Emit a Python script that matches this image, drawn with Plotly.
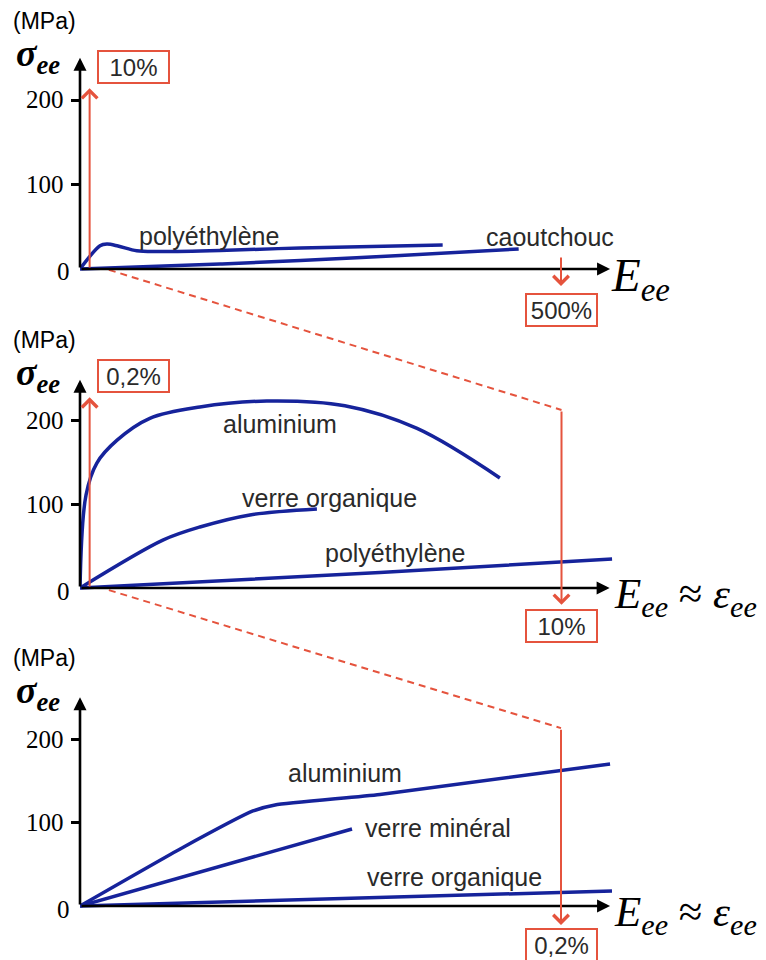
import plotly.graph_objects as go

# ---------------- data: strain (%) vs engineering stress (MPa) ----------------
# panel 1 : large strains (0 .. 500 %)
p1_poly_strain = [0, 20.8, 28, 39.5, 59, 83, 145.5, 229, 377]
p1_poly_stress = [0, 27.5, 29.5, 27.2, 21.5, 20.7, 21.9, 24.9, 28.4]
p1_rubber_strain = [0, 145.5, 229, 333, 456]
p1_rubber_stress = [0, 5.9, 10, 16, 23.7]

# panel 2 : 0 .. 10 %
p2_alu_strain = [0, 0.125, 0.35, 0.77, 1.45, 2.49, 3.88, 5.5, 7.0, 8.72]
p2_alu_stress = [0, 110.7, 148.8, 176, 202, 215.5, 222.6, 217, 190, 131]
p2_pmma_strain = [0, 1.72, 2.49, 3.53, 4.92]
p2_pmma_stress = [0, 57, 72.6, 87, 94]
p2_poly_strain = [0, 6.23, 11.05]
p2_poly_stress = [0, 18.5, 34.5]

# panel 3 : 0 .. 0.2 %
p3_alu_strain = [0, 0.0424, 0.0719, 0.0811, 0.1247, 0.2204]
p3_alu_stress = [0, 69.5, 113.8, 121, 133.5, 170]
p3_glass_strain = [0, 0.1131]
p3_glass_stress = [0, 92.2]
p3_pmma_strain = [0, 0.2212]
p3_pmma_stress = [0, 18]

stress_ticks = [0, 100, 200]
stress_tick_text = ["0", "100", "200"]

# strain marks (zoom windows) : value and box text
p1_marks = [(10, "10%"), (500, "500%")]
p2_marks = [(0.2, "0,2%"), (10, "10%")]
p3_marks = [(0.2, "0,2%")]

# ---------------- geometry / style ----------------
W, H = 766, 960
X0 = 80  # pixel column of the stress axis
BLUE = "#16239b"
RED = "#e5533d"
GREY = "#2a2a2a"
SANS = "Liberation Sans"
SERIF = "Liberation Serif"

panels = [
    dict(origin=269, sy=0.845, sx=0.962, top=40, bottom=330, xend=551, yend=250),
    dict(origin=588, sy=0.840, sx=48.15, top=340, bottom=650, xend=11.0, yend=248),
    dict(origin=906, sy=0.835, sx=2405.0, top=660, bottom=960, xend=0.2204, yend=250),
]


def to_paper(p, x, y):
    px = X0 + x * p["sx"]
    py = p["origin"] - y * p["sy"]
    return px / W, 1 - py / H


fig = go.Figure()
layout = dict(
    width=W, height=H, margin=dict(l=0, r=0, t=0, b=0),
    paper_bgcolor="white", plot_bgcolor="rgba(0,0,0,0)", showlegend=False,
)

for i, p in enumerate(panels, start=1):
    sfx = "" if i == 1 else str(i)
    layout["xaxis" + sfx] = dict(
        domain=[X0 / W, 1], range=[0, (W - X0) / p["sx"]],
        anchor="y" + sfx, showgrid=False, zeroline=False, showline=False,
        showticklabels=False, ticks="", fixedrange=True,
    )
    # tick marks only at the non-zero stress values; labels are written below
    layout["yaxis" + sfx] = dict(
        domain=[1 - p["bottom"] / H, 1 - p["top"] / H],
        range=[(p["origin"] - p["bottom"]) / p["sy"], (p["origin"] - p["top"]) / p["sy"]],
        anchor="x" + sfx, showgrid=False, zeroline=False, showline=False,
        tickvals=[v for v in stress_ticks if v > 0], ticks="outside",
        ticklen=8, tickwidth=2.5, tickcolor="black", showticklabels=False,
        fixedrange=True,
    )
fig.update_layout(**layout)


def curve(i, xs, ys, shape="linear", smoothing=0.9):
    sfx = "" if i == 1 else str(i)
    fig.add_trace(go.Scatter(
        x=xs, y=ys, mode="lines", xaxis="x" + sfx, yaxis="y" + sfx,
        line=dict(color=BLUE, width=3.5, shape=shape, smoothing=smoothing),
        hoverinfo="skip", cliponaxis=False,
    ))


curve(1, p1_rubber_strain, p1_rubber_stress, "spline")
curve(1, p1_poly_strain, p1_poly_stress, "spline")
curve(2, p2_poly_strain, p2_poly_stress)
curve(2, p2_pmma_strain, p2_pmma_stress, "spline")
curve(2, p2_alu_strain, p2_alu_stress, "spline", 1.0)
curve(3, p3_pmma_strain, p3_pmma_stress)
curve(3, p3_glass_strain, p3_glass_stress)
curve(3, p3_alu_strain, p3_alu_stress, "spline", 0.5)

ann = []


def refs(i):
    sfx = "" if i == 1 else str(i)
    return "x" + sfx, "y" + sfx


for i, p in enumerate(panels, start=1):
    xr, yr = refs(i)
    # axes drawn as arrows
    for hx, hy in [(p["xend"], 0), (0, p["yend"])]:
        ann.append(dict(x=hx, y=hy, ax=0, ay=0, xref=xr, yref=yr, axref=xr, ayref=yr,
                        text="", showarrow=True, arrowhead=2, arrowsize=1,
                        arrowwidth=2.6, arrowcolor="black", standoff=0))
    # stress tick labels
    for v, t in zip(stress_ticks, stress_tick_text):
        ann.append(dict(x=0, y=v, xref=xr, yref=yr, text=t, showarrow=False,
                        xanchor="right", yanchor="middle",
                        xshift=-8 if v == 0 else -14, yshift=-3 if v == 0 else 0,
                        font=dict(family=SERIF, size=25, color="black")))
    # axis titles
    ox, oy = to_paper(p, 0, 0)
    ann.append(dict(x=11 / W, y=oy + 248 / H, xref="paper", yref="paper",
                    text="(MPa)", showarrow=False, xanchor="left", yanchor="middle",
                    font=dict(family=SANS, size=23, color="black")))
    ann.append(dict(x=14 / W, y=oy + 213 / H, xref="paper", yref="paper",
                    text="<b><i>σ<sub>ee</sub></i></b>", showarrow=False,
                    xanchor="left", yanchor="middle",
                    font=dict(family=SERIF, size=38, color="black")))

# strain axis titles
_, oy1 = to_paper(panels[0], 0, 0)
ann.append(dict(x=609 / W, y=oy1 - 9 / H, xref="paper", yref="paper",
                text="<i>E<sub>ee</sub></i>", showarrow=False,
                xanchor="left", yanchor="middle",
                font=dict(family=SERIF, size=47, color="black")))
for p in panels[1:]:
    _, oy = to_paper(p, 0, 0)
    ann.append(dict(x=612 / W, y=oy - 9 / H, xref="paper", yref="paper",
                    text="<i>E<sub>ee</sub></i> ≈ <i>ε<sub>ee</sub></i>", showarrow=False,
                    xanchor="left", yanchor="middle",
                    font=dict(family=SERIF, size=43, color="black")))

# curve names
labels = [
    (1, 134, 39, "polyéthylène"), (1, 488.6, 38, "caoutchouc"),
    (2, 4.15, 195, "aluminium"), (2, 5.19, 107, "verre organique"),
    (2, 6.54, 41.7, "polyéthylène"),
    (3, 0.1102, 159.3, "aluminium"), (3, 0.1489, 93.4, "verre minéral"),
    (3, 0.1559, 34.7, "verre organique"),
]
for i, x, y, t in labels:
    xr, yr = refs(i)
    ann.append(dict(x=x, y=y, xref=xr, yref=yr, text=t, showarrow=False,
                    font=dict(family=SANS, size=25, color=GREY)))


def box(i, x, y, t, anchor="center", shift=0):
    xr, yr = refs(i)
    ann.append(dict(x=x, y=y, xref=xr, yref=yr, text=t, showarrow=False,
                    xanchor=anchor, yanchor="middle", xshift=shift, width=66, height=27,
                    borderpad=1.5, bordercolor=RED, borderwidth=2, bgcolor="white",
                    font=dict(family=SANS, size=24, color=GREY)))


def red_arrow(i, x, y_tail, y_head):
    xr, yr = refs(i)
    ann.append(dict(x=x, y=y_head, ax=x, ay=y_tail, xref=xr, yref=yr, axref=xr, ayref=yr,
                    text="", showarrow=True, arrowhead=4, arrowsize=1.5,
                    arrowwidth=2, arrowcolor=RED, standoff=0))


# panel 1 marks
(lo1, lo1t), (hi1, hi1t) = p1_marks
red_arrow(1, lo1, 0, 214)
box(1, lo1, 238.5, lo1t, "left", 7)
red_arrow(1, hi1, 15.4, -20)
box(1, hi1, -49, hi1t)
# panel 2 marks
(lo2, lo2t), (hi2, hi2t) = p2_marks
red_arrow(2, lo2, 0, 227)
box(2, lo2, 252.4, lo2t, "left", 7)
red_arrow(2, hi2, 212, -20)
box(2, hi2, -45.2, hi2t)
# panel 3 mark
(hi3, hi3t), = p3_marks
red_arrow(3, hi3, 213, -22.7)
box(3, hi3, -47, hi3t)

# dashed zoom connectors
shapes = []
for (pa, xa, ya), (pb, xb, yb) in [((panels[0], 30, -1), (panels[1], hi2, 212)),
                                   ((panels[1], 0.6, -2.5), (panels[2], hi3, 213))]:
    x0, y0 = to_paper(pa, xa, ya)
    x1, y1 = to_paper(pb, xb, yb)
    shapes.append(dict(type="line", xref="paper", yref="paper", x0=x0, y0=y0, x1=x1, y1=y1,
                       line=dict(color=RED, width=2, dash="7px,5px"), layer="above"))

fig.update_layout(annotations=ann, shapes=shapes)
fig.write_html("out.html")
